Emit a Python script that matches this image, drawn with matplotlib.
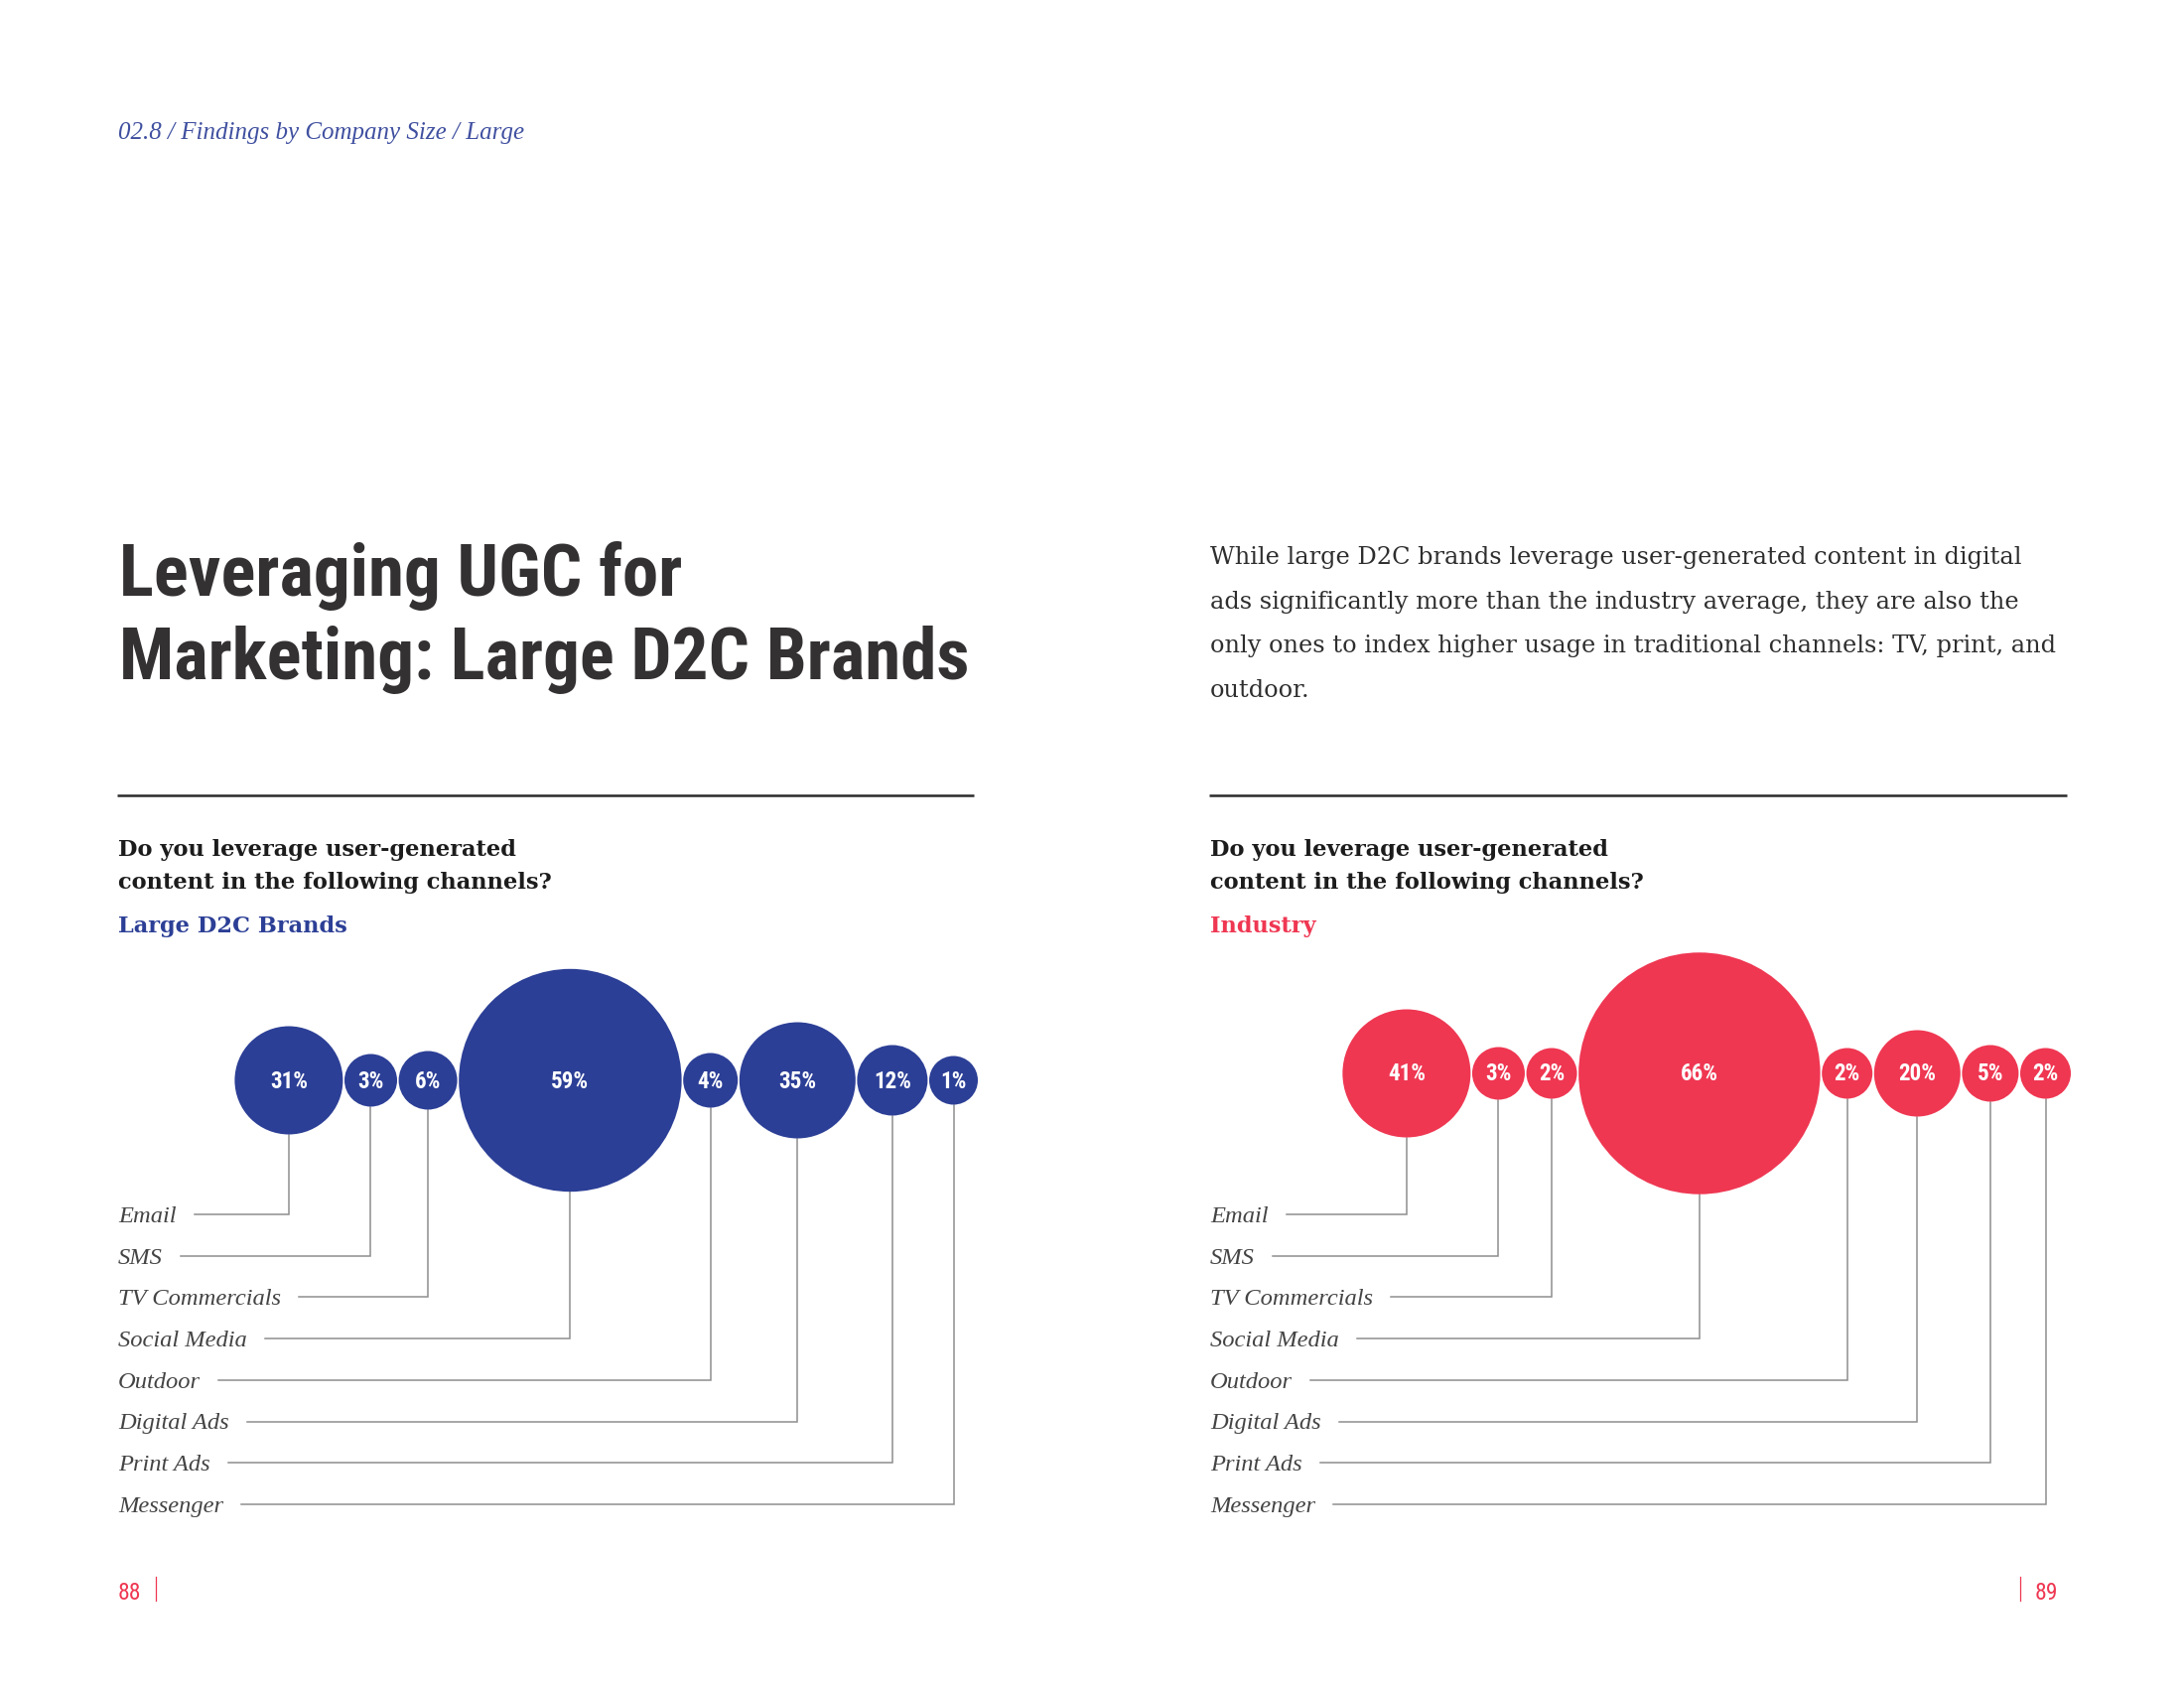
import matplotlib
matplotlib.use("Agg")
import matplotlib.pyplot as plt
from matplotlib import font_manager as fm
from matplotlib.patches import Circle

# ---------------- data ----------------
channels = ['Email', 'SMS', 'TV Commercials', 'Social Media', 'Outdoor',
            'Digital Ads', 'Print Ads', 'Messenger']
large_d2c = [31, 3, 6, 59, 4, 35, 12, 1]
industry = [41, 3, 2, 66, 2, 20, 5, 2]

header = '02.8 / Findings by Company Size / Large'
title_lines = ['Leveraging UGC for', 'Marketing: Large D2C Brands']
para_lines = ['While large D2C brands leverage user-generated content in digital',
              'ads significantly more than the industry average, they are also the',
              'only ones to index higher usage in traditional channels: TV, print, and',
              'outdoor.']
question_lines = ['Do you leverage user-generated', 'content in the following channels?']
panel_names = ['Large D2C Brands', 'Industry']
page_numbers = ['88', '89']

# ---------------- style ----------------
BLUE = '#2c3f96'
RED = '#ef3752'
HEAD = '#4050a0'
DARK = '#343132'
TXT = '#2e2e2e'
LAB = '#444444'
LINE = '#8e8e8e'


def pick(names):
    for n in names:
        try:
            fm.findfont(fm.FontProperties(family=n), fallback_to_default=False)
            return n
        except Exception:
            pass
    return 'DejaVu Sans'


NARROW = pick(['Liberation Sans Narrow', 'Roboto Condensed', 'Roboto'])
SERIF = pick(['DejaVu Serif'])
ISERIF = pick(['Liberation Serif', 'DejaVu Serif'])

W, H = 2200, 1700
fig = plt.figure(figsize=(22, 17), dpi=100)
ax = fig.add_axes([0, 0, 1, 1])
ax.set_xlim(0, W)
ax.set_ylim(H, 0)
ax.axis('off')
fig.canvas.draw()
R = fig.canvas.get_renderer()


def fit(t, target_w):
    bb = t.get_window_extent(renderer=R)
    t.set_fontsize(t.get_fontsize() * target_w / bb.width)
    return t.get_fontsize()


def right_x(t):
    bb = t.get_window_extent(renderer=R)
    return bb.x1


# header
t = ax.text(119, 140, header, family=ISERIF, style='italic', color=HEAD,
            fontsize=16, va='baseline', ha='left')
fit(t, 410)

# title
t1 = ax.text(120, 600, title_lines[0], family=NARROW, weight='bold', color=DARK,
             fontsize=48, va='baseline', ha='left')
t2 = ax.text(120, 684, title_lines[1], family=NARROW, weight='bold', color=DARK,
             fontsize=48, va='baseline', ha='left')
fs = fit(t2, 856)
t1.set_fontsize(fs)

# paragraph
pt = []
for i, line in enumerate(para_lines):
    pt.append(ax.text(1219, 568 + i * 44.7, line, family=SERIF, color=TXT,
                      fontsize=16, va='baseline', ha='left'))
fs = fit(pt[0], 815)
for p in pt:
    p.set_fontsize(fs)

# panels
panel_left = [118, 1218]
panel_right = [981, 2082]
bubble_cy = [1088, 1081]
colors = [BLUE, RED]
series = [large_d2c, industry]
row_y0, row_dy = 1223, 41.7

for k in range(2):
    x0, x1 = panel_left[k], panel_right[k]
    ax.plot([x0, x1], [801, 801], color='#2b2b2b', lw=1.8, solid_capstyle='butt')

    qt = []
    for i, line in enumerate(question_lines):
        qt.append(ax.text(x0 + 1, 862 + i * 33, line, family=SERIF, weight='bold',
                          color='#1c1c1c', fontsize=16, va='baseline', ha='left'))
    fs = fit(qt[0], 402)
    for q in qt:
        q.set_fontsize(fs)
    ax.text(x0 + 1, 939, panel_names[k], family=SERIF, weight='bold',
            color=colors[k], fontsize=fs, va='baseline', ha='left')

    vals = series[k]
    vmax = max(vals)
    diam = [(47 + 2.0 * v) * (1.36 if v == vmax else 1.0) for v in vals]
    gap = 1.6
    # right-aligned bubble row
    right = x1 + 4
    centers = [0.0] * len(vals)
    for i in range(len(vals) - 1, -1, -1):
        centers[i] = right - diam[i] / 2
        right -= diam[i] + gap
    cy = bubble_cy[k]

    # labels & leader lines
    lab_texts = []
    for i, name in enumerate(channels):
        y = row_y0 + i * row_dy
        lab_texts.append(ax.text(x0 + 1, y + 8, name, family=ISERIF, style='italic',
                                 color=LAB, fontsize=18, va='baseline', ha='left'))
    ref = lab_texts[2]
    fs = fit(ref, 164)
    for lt in lab_texts:
        lt.set_fontsize(fs)
    for i, lt in enumerate(lab_texts):
        y = row_y0 + i * row_dy
        xs = right_x(lt) + 18
        ax.plot([xs, centers[i], centers[i]], [y, y, cy + diam[i] / 2],
                color=LINE, lw=1.1, solid_joinstyle='miter', zorder=1)

    pct = []
    for i, v in enumerate(vals):
        ax.add_patch(Circle((centers[i], cy), diam[i] / 2, facecolor=colors[k],
                            edgecolor='none', zorder=3))
        pct.append(ax.text(centers[i], cy + 1, f'{v}%', family=NARROW, weight='bold',
                           color='white', fontsize=17, ha='center', va='center',
                           zorder=4))
    imax = vals.index(vmax)
    fs = fit(pct[imax], 38)
    for p in pct:
        p.set_fontsize(fs)

# page numbers
ax.text(119, 1611, page_numbers[0], family=NARROW, color=RED, fontsize=17,
        va='baseline', ha='left')
ax.plot([157, 157], [1588, 1612], color=RED, lw=0.9)
ax.text(2050, 1611, page_numbers[1], family=NARROW, color=RED, fontsize=17,
        va='baseline', ha='left')
ax.plot([2035, 2035], [1588, 1612], color=RED, lw=0.9)

fig.savefig('out.png', dpi=100, facecolor='white')
